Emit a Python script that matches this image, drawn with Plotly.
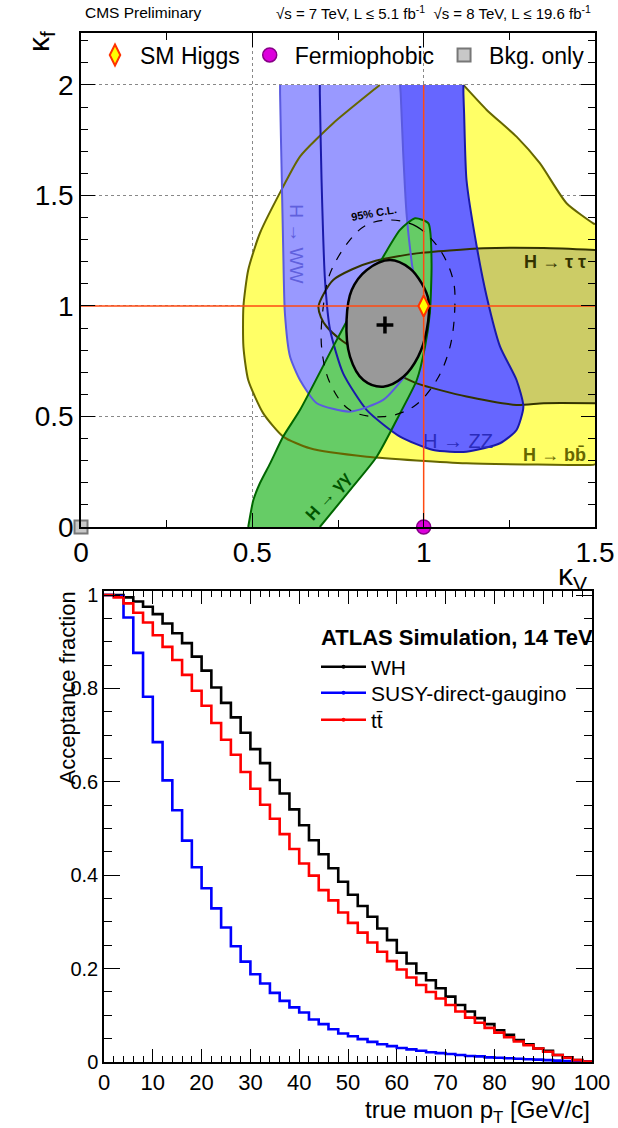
import plotly.graph_objects as go

W, H = 618, 1128
def px_x(p): return p / W
def px_y(p): return 1 - p / H

# ---------------- top panel: kappa_V vs kappa_f contours ----------------
# H->bb (yellow); closing segments run along the kappa_f=2 and kappa_V=1.5 borders
bb_kv = [1.112, 1.116, 1.184, 1.271, 1.339, 1.417, 1.495, 1.500, 1.500, 1.495, 1.300, 1.125, 0.834, 0.668,
         0.590, 0.532, 0.488, 0.474, 0.474, 0.488, 0.522, 0.590, 0.639, 0.736, 0.860, 0.872, 0.876]
bb_kf = [2.000, 2.000, 1.887, 1.766, 1.646, 1.465, 1.374, 1.370, 0.284, 0.281, 0.283, 0.288, 0.318, 0.356,
         0.409, 0.514, 0.665, 0.816, 0.997, 1.163, 1.329, 1.540, 1.676, 1.827, 1.985, 2.000, 2.000]

# H->tautau (khaki)
tt_kv = [1.500, 1.350, 1.174, 0.980, 0.860, 0.790, 0.736, 0.710, 0.693, 0.700, 0.717, 0.760, 0.834, 0.880,
         0.980, 1.125, 1.271, 1.350, 1.500]
tt_kf = [1.253, 1.262, 1.261, 1.238, 1.205, 1.165, 1.118, 1.060, 0.997, 0.950, 0.906, 0.845, 0.771, 0.725,
         0.650, 0.590, 0.552, 0.560, 0.560]

# H->ZZ (blue)
zz_kv = [1.112, 1.116, 1.116, 1.118, 1.125, 1.155, 1.184, 1.223, 1.271, 1.291, 1.271, 1.223, 1.125, 1.028,
         0.931, 0.834, 0.765, 0.727, 0.712, 0.702, 0.697, 0.697, 0.701]
zz_kf = [2.000, 2.000, 1.960, 1.872, 1.570, 1.268, 1.042, 0.816, 0.665, 0.544, 0.439, 0.379, 0.341, 0.348,
         0.409, 0.529, 0.695, 0.891, 1.118, 1.570, 1.960, 2.000, 2.000]

# H->WW (light blue)
ww_kv = [0.927, 0.931, 0.933, 0.940, 0.950, 0.965, 0.980, 0.980, 0.950, 0.882, 0.785, 0.688, 0.639, 0.610,
         0.595, 0.590, 0.586, 0.581, 0.581, 0.585]
ww_kf = [2.000, 2.000, 1.960, 1.700, 1.419, 1.200, 1.042, 0.816, 0.695, 0.575, 0.522, 0.560, 0.665, 0.771,
         0.967, 1.268, 1.570, 1.960, 2.000, 2.000]

# H->gamma gamma (green)
gg_kv = [0.488, 0.503, 0.522, 0.552, 0.590, 0.639, 0.736, 0.814, 0.882, 0.931, 0.975, 1.014, 1.023, 1.018,
         1.004, 0.980, 0.931, 0.863, 0.785, 0.697]
gg_kf = [0.000, 0.122, 0.198, 0.288, 0.409, 0.529, 0.816, 1.042, 1.223, 1.344, 1.397, 1.374, 1.193, 0.967,
         0.816, 0.665, 0.514, 0.318, 0.167, 0.000]

# combined 68% (grey) and 95% (dashed) regions
comb68_kv = [0.902, 0.960, 0.994, 1.014, 1.009, 0.984, 0.941, 0.882, 0.824, 0.785, 0.775, 0.790, 0.834, 0.902]
comb68_kf = [1.208, 1.170, 1.103, 1.027, 0.891, 0.771, 0.680, 0.635, 0.665, 0.771, 0.937, 1.072, 1.163, 1.208]
comb95_kv = [0.902, 0.980, 1.048, 1.086, 1.091, 1.077, 1.038, 0.970, 0.882, 0.785, 0.727, 0.702, 0.707, 0.727,
             0.785, 0.834, 0.902]
comb95_kf = [1.389, 1.359, 1.253, 1.118, 0.997, 0.816, 0.665, 0.544, 0.499, 0.529, 0.650, 0.816, 0.997, 1.148,
             1.299, 1.367, 1.389]

best_fit = ([0.887], [0.914])
sm_point = ([1.0], [1.0])
fermiophobic_point = ([1.0], [0.0])
bkg_point = ([0.0], [0.0])
sm_hline = ([0.0, 1.5], [1.0, 1.0])
sm_vline = ([1.0, 1.0], [0.0, 2.0])

# ---------------- bottom panel: acceptance vs muon pT ----------------
pt_edges = list(range(0, 101, 2))
acc_wh = [1.000, 1.000, 0.995, 0.986, 0.975, 0.959, 0.939, 0.918, 0.897, 0.868,
          0.838, 0.802, 0.769, 0.738, 0.705, 0.670, 0.640, 0.604, 0.575, 0.541,
          0.507, 0.475, 0.445, 0.415, 0.386, 0.358, 0.334, 0.311, 0.286, 0.261,
          0.234, 0.211, 0.190, 0.175, 0.158, 0.140, 0.122, 0.108, 0.094, 0.081,
          0.068, 0.058, 0.047, 0.038, 0.029, 0.024, 0.015, 0.010, 0.004, 0.001]
acc_susy = [1.000, 0.998, 0.952, 0.876, 0.782, 0.685, 0.603, 0.539, 0.474, 0.417,
            0.372, 0.329, 0.288, 0.248, 0.215, 0.188, 0.168, 0.148, 0.131, 0.117,
            0.106, 0.091, 0.081, 0.070, 0.061, 0.055, 0.049, 0.043, 0.038, 0.034,
            0.030, 0.027, 0.024, 0.021, 0.019, 0.017, 0.015, 0.013, 0.012, 0.010,
            0.009, 0.008, 0.007, 0.006, 0.005, 0.004, 0.003, 0.002, 0.001, 0.0005]
acc_tt = [1.000, 0.995, 0.982, 0.962, 0.941, 0.914, 0.889, 0.861, 0.829, 0.795,
          0.763, 0.726, 0.690, 0.658, 0.621, 0.585, 0.551, 0.521, 0.488, 0.456,
          0.425, 0.399, 0.368, 0.346, 0.320, 0.298, 0.277, 0.256, 0.236, 0.216,
          0.198, 0.181, 0.165, 0.150, 0.136, 0.122, 0.108, 0.095, 0.084, 0.073,
          0.063, 0.053, 0.044, 0.036, 0.029, 0.022, 0.015, 0.009, 0.004, 0.001]
series_names = ["WH", "SUSY-direct-gaugino", "t\u0074\u0304"]
series_colors = ["#000000", "#0000ff", "#ff0000"]

FONT = "Liberation Sans"
fig = go.Figure()

def add_fill(xs, ys, color, smooth=0.6):
    fig.add_trace(go.Scatter(x=xs, y=ys, mode="lines", fill="toself", fillcolor=color,
                             line=dict(width=0, shape="spline", smoothing=smooth),
                             hoverinfo="skip", showlegend=False, xaxis="x", yaxis="y"))

def add_line(xs, ys, color, width=2.0, dash="solid", smooth=0.6):
    fig.add_trace(go.Scatter(x=xs, y=ys, mode="lines",
                             line=dict(width=width, color=color, dash=dash, shape="spline", smoothing=smooth),
                             hoverinfo="skip", showlegend=False, xaxis="x", yaxis="y"))

# fills
add_fill(bb_kv, bb_kf, "#ffff66")
add_fill(tt_kv, tt_kf, "#cccc66")
add_fill(zz_kv, zz_kf, "#6666ff")
add_fill(ww_kv, ww_kf, "#9999ff")
add_fill(gg_kv, gg_kf, "#66cc66")
# contour lines (only the real contour, not the border segments)
add_line(bb_kv[1:8], bb_kf[1:8], "#666600")
add_line(bb_kv[8:-1], bb_kf[8:-1], "#666600")
add_line(tt_kv, tt_kf, "#333300")
add_line(zz_kv[1:-1], zz_kf[1:-1], "#1a1aaa")
add_line(ww_kv[1:-1], ww_kf[1:-1], "#5a5ae0")
add_line(gg_kv, gg_kf, "#006600")
add_fill(comb68_kv, comb68_kf, "#999999", smooth=1.0)
add_line(comb68_kv, comb68_kf, "#000000", width=2.5, smooth=1.0)
add_line(comb95_kv, comb95_kf, "#000000", width=1.2, dash="dash", smooth=1.0)

for xs, ys in (sm_hline, sm_vline):
    fig.add_trace(go.Scatter(x=xs, y=ys, mode="lines", line=dict(color="#ff4a12", width=1.5),
                             hoverinfo="skip", showlegend=False, xaxis="x", yaxis="y"))

fig.add_trace(go.Scatter(x=best_fit[0], y=best_fit[1], mode="markers",
                         marker=dict(symbol="cross-thin", size=12, line=dict(width=3.5, color="black")),
                         showlegend=False, xaxis="x", yaxis="y"))
fig.add_trace(go.Scatter(x=sm_point[0], y=sm_point[1], mode="markers", name="SM Higgs", legend="legend",
                         marker=dict(symbol="diamond-tall", size=15, color="#ffff00",
                                     line=dict(width=2, color="#ff3300")),
                         cliponaxis=False, xaxis="x", yaxis="y"))
fig.add_trace(go.Scatter(x=fermiophobic_point[0], y=fermiophobic_point[1], mode="markers", name="Fermiophobic",
                         legend="legend",
                         marker=dict(symbol="circle", size=14, color="#dd00dd",
                                     line=dict(width=1.5, color="#880088")),
                         cliponaxis=False, xaxis="x", yaxis="y"))
fig.add_trace(go.Scatter(x=bkg_point[0], y=bkg_point[1], mode="markers", name="Bkg. only", legend="legend",
                         marker=dict(symbol="square", size=13, color="#c8c8c8",
                                     line=dict(width=2, color="#777777")),
                         cliponaxis=False, xaxis="x", yaxis="y"))

# bottom panel step histograms
for vals, col in zip((acc_wh, acc_susy, acc_tt), series_colors):
    fig.add_trace(go.Scatter(x=pt_edges, y=vals + [vals[-1]], mode="lines",
                             line=dict(color=col, width=2.6, shape="hv"),
                             showlegend=False, hoverinfo="skip", xaxis="x2", yaxis="y2"))
legend_ids = ["legend2", "legend3", "legend4"]
for col, name, lid in zip(series_colors, series_names, legend_ids):
    fig.add_trace(go.Scatter(x=[None], y=[None], mode="lines+markers", name=name, legend=lid,
                             line=dict(color=col, width=2.5), marker=dict(color=col, size=4),
                             xaxis="x2", yaxis="y2"))

axis_common = dict(showline=True, linecolor="black", linewidth=1.5, mirror="ticks", ticks="inside",
                   tickcolor="black", zeroline=False, automargin=False)

small_legend = dict(x=px_x(316), xanchor="left", yanchor="middle", bgcolor="rgba(0,0,0,0)",
                    font=dict(family=FONT, size=21, color="black"), itemwidth=45)

fig.update_layout(
    width=W, height=H, margin=dict(l=0, r=0, t=0, b=0, autoexpand=False),
    paper_bgcolor="white", plot_bgcolor="white",
    font=dict(family=FONT, color="black"),
    xaxis=dict(domain=[px_x(81), px_x(595)], range=[0, 1.5], anchor="y", dtick=0.5, tick0=0, ticklen=14,
               showgrid=True, gridcolor="#888888", griddash="dot", gridwidth=1,
               tickfont=dict(family=FONT, size=28, color="black"),
               minor=dict(dtick=0.25, ticklen=7, ticks="inside", tickcolor="black", showgrid=False),
               **axis_common),
    yaxis=dict(domain=[px_y(527), px_y(33)], range=[0, 2.235], anchor="x", dtick=0.5, tick0=0, ticklen=14,
               showgrid=True, gridcolor="#888888", griddash="dot", gridwidth=1,
               tickfont=dict(family=FONT, size=28, color="black"),
               minor=dict(dtick=0.1, ticklen=7, ticks="inside", tickcolor="black", showgrid=False),
               **axis_common),
    xaxis2=dict(domain=[px_x(104), px_x(592)], range=[0, 100], anchor="y2", dtick=10, tick0=0, ticklen=13,
                showgrid=False, tickfont=dict(family=FONT, size=22, color="black"),
                minor=dict(dtick=2, ticklen=6, ticks="inside", tickcolor="black"),
                **axis_common),
    yaxis2=dict(domain=[px_y(1062), px_y(591)], range=[0, 1.0086], anchor="x2", dtick=0.2, tick0=0, ticklen=16,
                showgrid=False, tickfont=dict(family=FONT, size=20, color="black"),
                minor=dict(dtick=0.05, ticklen=8, ticks="inside", tickcolor="black"),
                **axis_common),
    legend=dict(orientation="h", x=px_x(90), y=px_y(55), xanchor="left", yanchor="middle",
                bgcolor="rgba(0,0,0,0)", font=dict(family=FONT, size=23, color="black"), itemwidth=40),
    legend2=dict(y=px_y(667), **small_legend),
    legend3=dict(y=px_y(693), **small_legend),
    legend4=dict(y=px_y(720), **small_legend),
)

ann = [
    dict(text="CMS Preliminary", x=px_x(83), y=px_y(13), xanchor="left", font=dict(family=FONT, size=15.5)),
    dict(text="\u221as = 7 TeV, L \u2264 5.1 fb<sup>-1</sup>  \u221as = 8 TeV, L \u2264 19.6 fb<sup>-1</sup>",
         x=px_x(593), y=px_y(13), xanchor="right", font=dict(family=FONT, size=15)),
    dict(text="\u03ba<sub>f</sub>", x=px_x(40), y=px_y(42), textangle=-90, xanchor="center",
         font=dict(family=FONT, size=30)),
    dict(text="\u03ba<sub>V</sub>", x=px_x(572), y=px_y(577), xanchor="center", font=dict(family=FONT, size=30)),
    dict(text="<b>ATLAS Simulation, 14 TeV</b>", x=px_x(319), y=px_y(637), xanchor="left",
         font=dict(family=FONT, size=22)),
    dict(text="Acceptance fraction", x=px_x(67), y=px_y(590), textangle=-90, xanchor="center", yanchor="top",
         font=dict(family=FONT, size=22)),
    dict(text="true muon p<sub>T</sub> [GeV/c]", x=px_x(592), y=px_y(1111), xanchor="right",
         font=dict(family=FONT, size=24)),
]
for a in ann:
    a.setdefault("yanchor", "middle")
    fig.add_annotation(xref="paper", yref="paper", showarrow=False, **a)

# labels placed in data coordinates of the top panel
lab = [
    dict(text="<b>H \u2192 \u03c4 \u03c4</b>", x=1.48, y=1.2, xanchor="right", font=dict(family=FONT, size=18, color="#333300")),
    dict(text="<b>H \u2192 bb\u0304</b>", x=1.48, y=0.325, xanchor="right", font=dict(family=FONT, size=18, color="#666600")),
    dict(text="H \u2192 ZZ", x=1.10, y=0.39, xanchor="center", font=dict(family=FONT, size=20, color="#2b2bbb")),
    dict(text="H \u2192 WW", x=0.63, y=1.28, xanchor="center", textangle=90, font=dict(family=FONT, size=19, color="#6060dd")),
    dict(text="<b>H \u2192 \u03b3\u03b3</b>", x=0.72, y=0.14, xanchor="center", textangle=-48,
         font=dict(family=FONT, size=17, color="#005500")),
    dict(text="<b>95% C.L.</b>", x=0.855, y=1.42, xanchor="center", textangle=-10, font=dict(family=FONT, size=11, color="black")),
]
for a in lab:
    fig.add_annotation(xref="x", yref="y", showarrow=False, yanchor="middle", **a)

fig.write_html("out.html")
